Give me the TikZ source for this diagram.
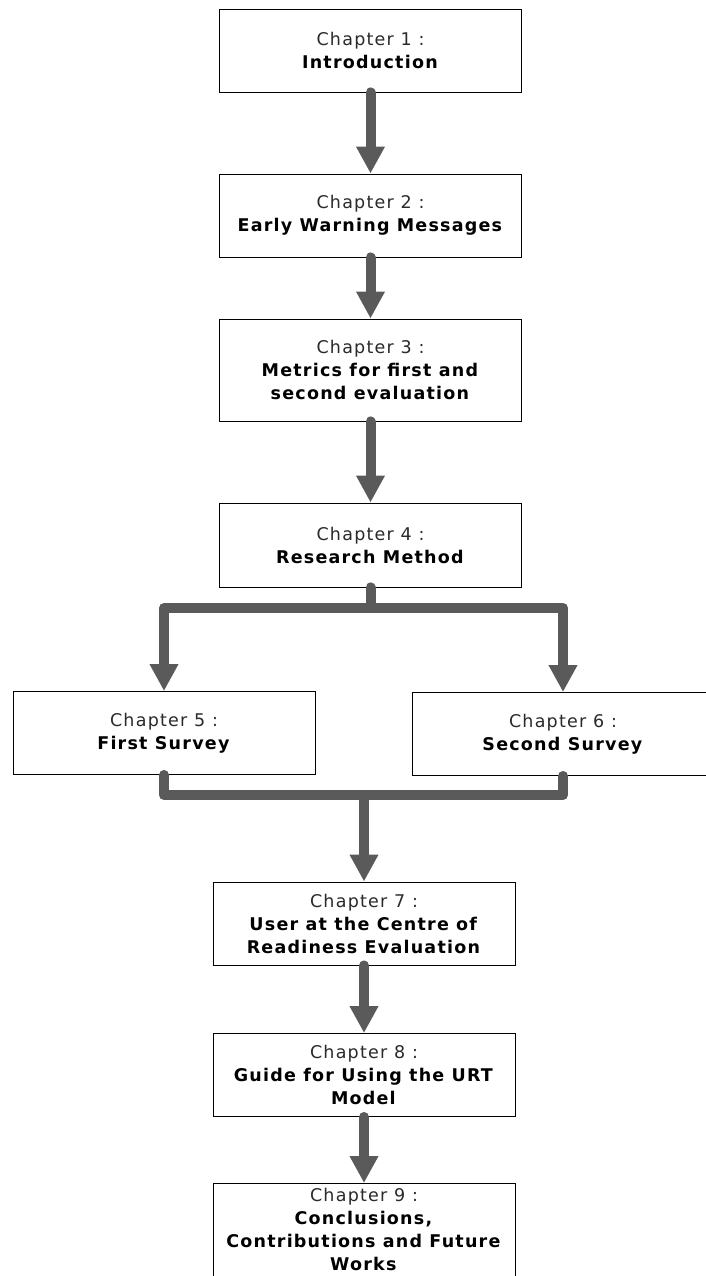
\documentclass[tikz,border=0pt]{standalone}
\usepackage{fontspec}
\setmainfont{DejaVu Sans}[LetterSpace=7]
\usetikzlibrary{arrows.meta}

\definecolor{linkgray}{HTML}{5A5A5A}
\definecolor{headgray}{HTML}{2A2A2A}

\tikzset{
  chapbox/.style={draw=black, line width=0.9pt, fill=white,
    minimum width=302pt, minimum height=83pt, align=center,
    inner xsep=4pt, inner ysep=5pt, font=\fontsize{17.5}{23}\selectfont},
  link/.style={draw=linkgray, line width=10pt, line cap=round, line join=round},
  flow/.style={link, -{Triangle[width=27pt,length=27pt]}},
}
\newcommand{\chaphead}[1]{{\color{headgray}#1}}

\begin{document}
\begin{tikzpicture}[x=1pt, y=-1pt]
  \useasboundingbox (0,0) rectangle (706,1276);
  \clip (0,0) rectangle (706,1276);

  % chapter boxes
  \node[chapbox] (c1) at (370.5,50.5) {\chaphead{Chapter 1 :}\\\textbf{Introduction}};
  \node[chapbox] (c2) at (370.5,215.5) {\chaphead{Chapter 2 :}\\\textbf{Early Warning Messages}};
  \node[chapbox, minimum height=102pt] (c3) at (370.5,370) {\chaphead{Chapter 3 :}\\\textbf{Metrics for first and}\\\textbf{second evaluation}};
  \node[chapbox, minimum height=84pt] (c4) at (370.5,545) {\chaphead{Chapter 4 :}\\\textbf{Research Method}};
  \node[chapbox] (c5) at (164,733) {\chaphead{Chapter 5 :}\\\textbf{First Survey}};
  \node[chapbox] (c6) at (563,734) {\chaphead{Chapter 6 :}\\\textbf{Second Survey}};
  \node[chapbox] (c7) at (364,923.5) {\chaphead{Chapter 7 :}\\\textbf{User at the Centre of}\\\textbf{Readiness Evaluation}};
  \node[chapbox] (c8) at (364,1075) {\chaphead{Chapter 8 :}\\\textbf{Guide for Using the URT}\\\textbf{Model}};
  \node[chapbox, minimum height=0pt, text depth=14pt, anchor=north] (c9) at (364,1183)
    {\chaphead{Chapter 9 :}\\\textbf{Conclusions,}\\\textbf{Contributions and Future}\\\textbf{Works}};

  % straight flow
  \draw[flow] (c1.south) -- (c2.north);
  \draw[flow] (c2.south) -- (c3.north);
  \draw[flow] (c3.south) -- (c4.north);

  % split towards the two surveys
  \coordinate (split) at (370.5,608);
  \draw[link] (c4.south) -- (split);
  \draw[flow] (split) -| (c5.north);
  \draw[flow] (split) -| (c6.north);

  % merge of the two surveys
  \coordinate (merge) at (364,795);
  \draw[link] (c5.south) |- (merge) -| (c6.south);
  \draw[flow] (merge) -- (c7.north);

  \draw[flow] (c7.south) -- (c8.north);
  \draw[flow] (c8.south) -- (c9.north);
\end{tikzpicture}
\end{document}
